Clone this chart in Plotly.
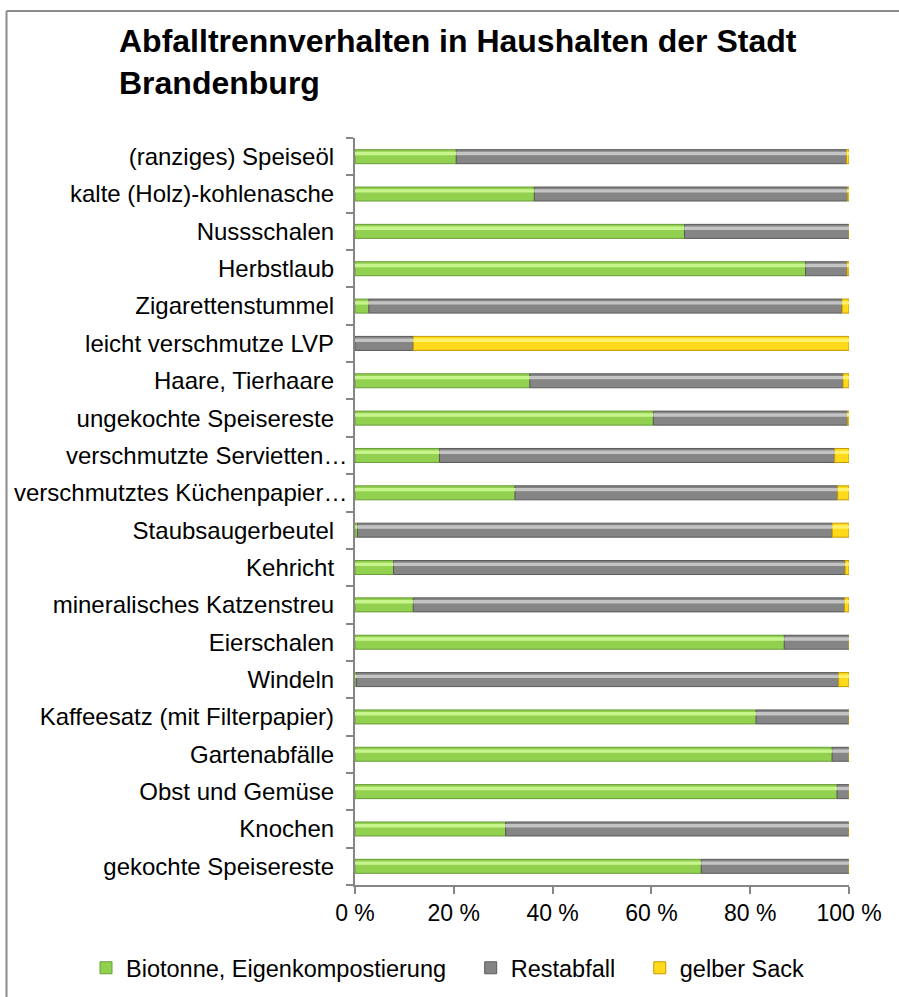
import plotly.graph_objects as go

categories = [
    "(ranziges) Speiseöl", "kalte (Holz)-kohlenasche", "Nussschalen", "Herbstlaub",
    "Zigarettenstummel", "leicht verschmutze LVP", "Haare, Tierhaare",
    "ungekochte Speisereste", "verschmutzte Servietten…", "verschmutztes Küchenpapier…",
    "Staubsaugerbeutel", "Kehricht", "mineralisches Katzenstreu", "Eierschalen",
    "Windeln", "Kaffeesatz (mit Filterpapier)", "Gartenabfälle", "Obst und Gemüse",
    "Knochen", "gekochte Speisereste",
]
biotonne = [20.5, 36.3, 66.7, 91.2, 2.8, 0.0, 35.4, 60.4, 17.1, 32.4,
            0.5, 7.8, 11.8, 86.9, 0.3, 81.2, 96.6, 97.6, 30.5, 70.1]
restabfall = [79.0, 63.4, 33.3, 8.4, 95.8, 11.8, 63.4, 39.3, 80.0, 65.3,
              96.1, 91.4, 87.3, 13.1, 97.6, 18.8, 3.4, 2.4, 69.5, 29.9]
gelber_sack = [0.5, 0.3, 0.0, 0.4, 1.4, 88.2, 1.2, 0.3, 2.9, 2.3,
               3.4, 0.8, 0.9, 0.0, 2.1, 0.0, 0.0, 0.0, 0.0, 0.0]
series_names = ["Biotonne, Eigenkompostierung", "Restabfall", "gelber Sack"]
tick_vals = [0, 20, 40, 60, 80, 100]
tick_text = ["0 %", "20 %", "40 %", "60 %", "80 %", "100 %"]
title_text = "Abfalltrennverhalten in Haushalten der Stadt<br>Brandenburg"

FONT = "Liberation Sans, Arial, sans-serif"
fills = ["#92D150", "#858585", "#FFD91A"]
edges = ["#6A9C39", "#5A5A5A", "#C49A00"]
highlights = ["#C8F48E", "#C4C4C4", "#FFF26A"]
NB = "\u00a0"

# truncated labels overflow to the right (as in the original); others get padding
cat_labels = [c if c.endswith("…") else c + NB * 2 for c in categories]
legend_labels = [n + NB * 3 for n in series_names[:-1]] + [series_names[-1]]

W, H = 899, 997
L, R, T, B = 355, 50, 138, 112
pw, ph = W - L - R, H - T - B

def px_x(p):
    return (p - L) / pw

def px_y(p):
    return (H - B - p) / ph

series = [biotonne, restabfall, gelber_sack]
bases = []
running = [0.0] * len(categories)
for vals in series:
    bases.append(list(running))
    running = [r + v for r, v in zip(running, vals)]

BAR_W = 0.375
fig = go.Figure()
for name, vals, base, fc, ec in zip(legend_labels, series, bases, fills, edges):
    fig.add_trace(go.Bar(
        y=categories, x=vals, base=base, name=name, orientation="h",
        width=BAR_W, offset=-BAR_W / 2,
        marker=dict(color=fc, line=dict(color=ec, width=1)),
        hoverinfo="x+y+name",
    ))
# bevel highlight strip along the top of each segment
for name, vals, base, hc in zip(series_names, series, bases, highlights):
    fig.add_trace(go.Bar(
        y=categories, x=vals, base=base, name=name, orientation="h",
        width=0.09, offset=-0.13, showlegend=False, hoverinfo="skip",
        marker=dict(color=hc, line=dict(width=0)),
    ))

fig.update_layout(
    width=W, height=H,
    margin=dict(l=L, r=R, t=T, b=B, autoexpand=False),
    barmode="overlay",
    paper_bgcolor="white", plot_bgcolor="white",
    font=dict(family=FONT, size=23, color="black"),
    title=dict(text=title_text, x=119 / W, xanchor="left", xref="container",
               y=1 - 52 / H, yanchor="top", yref="container",
               font=dict(family=FONT, size=32, color="black", weight="bold")),
    showlegend=True,
    legend=dict(orientation="h", x=px_x(86), xanchor="left", y=px_y(968), yanchor="middle",
                font=dict(family=FONT, size=23.5, color="black"), traceorder="normal",
                bgcolor="rgba(0,0,0,0)", itemwidth=30),
    xaxis=dict(range=[0, 100], tickvals=tick_vals, ticktext=tick_text,
               showgrid=False, zeroline=False, showline=True, linecolor="#868686", linewidth=1.5,
               ticks="outside", ticklen=7, tickcolor="#868686", tickwidth=1.5,
               tickfont=dict(family=FONT, size=23, color="black")),
    yaxis=dict(autorange="reversed", type="category", showgrid=False, zeroline=False,
               showline=True, linecolor="#868686", linewidth=1.5,
               ticks="outside", ticklen=7, tickcolor="#868686", tickwidth=1.5,
               tickson="boundaries", ticklabelstandoff=1,
               tickvals=categories, ticktext=cat_labels,
               tickfont=dict(family=FONT, size=24, color="black")),
    shapes=[
        dict(type="line", xref="paper", yref="paper", x0=px_x(6.5), x1=px_x(6.5),
             y0=px_y(11), y1=px_y(1010), line=dict(color="#8C8C8C", width=2)),
        dict(type="line", xref="paper", yref="paper", x0=px_x(6.5), x1=px_x(910),
             y0=px_y(11), y1=px_y(11), line=dict(color="#8C8C8C", width=2)),
    ],
)

fig.write_html("out.html")
